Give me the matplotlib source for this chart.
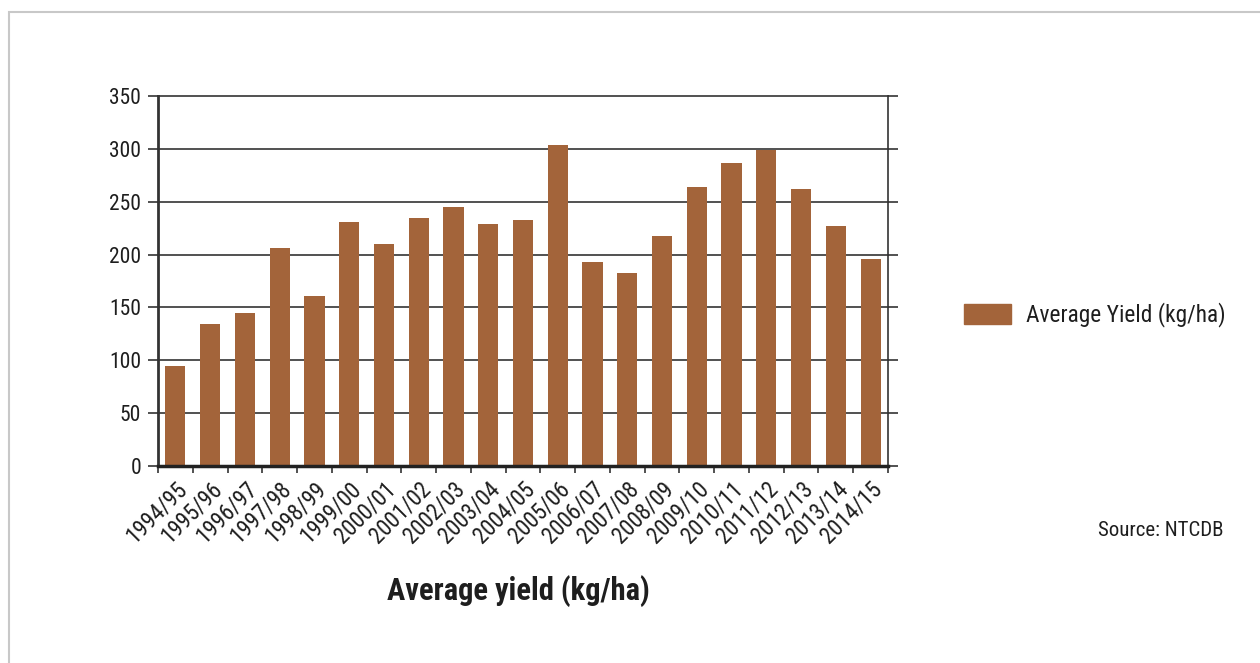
import numpy as np
import matplotlib.pyplot as plt
from matplotlib.patches import Rectangle, Patch

plt.rcParams['font.family'] = ['Roboto Condensed', 'DejaVu Sans']

# Season labels and average yield (kg/ha)
seasons = ["1994/95", "1995/96", "1996/97", "1997/98", "1998/99", "1999/00", "2000/01",
           "2001/02", "2002/03", "2003/04", "2004/05", "2005/06", "2006/07", "2007/08",
           "2008/09", "2009/10", "2010/11", "2011/12", "2012/13", "2013/14", "2014/15"]
yields = [95, 134, 145, 206, 161, 231, 210, 235, 245, 229, 233, 304, 193, 183,
          218, 264, 287, 299, 262, 227, 196]

bar_color = '#A3643A'
ink = '#1e1e1e'

fig = plt.figure(figsize=(12.6, 6.63), dpi=100)
W, H = 1260, 663
ax = fig.add_axes([158 / W, 1 - 466 / H, (888 - 158) / W, (466 - 96) / H])

x = np.arange(len(seasons))
ax.bar(x, yields, width=0.58, color=bar_color, zorder=3)

ax.set_xlim(-0.5, len(seasons) - 0.5)
ax.set_ylim(0, 350)
ax.set_yticks(np.arange(0, 351, 50))
ax.yaxis.grid(True, color='#333333', linewidth=1.2, zorder=0)
ax.tick_params(axis='y', which='both', left=True, right=True, direction='out',
               length=7, width=1.2, color='#333333', labelsize=15.5, pad=5,
               labelcolor=ink)

# x ticks sit on the category boundaries, labels under each bar
ax.set_xticks(np.arange(-0.5, len(seasons), 1.0))
ax.set_xticklabels([])
ax.set_xticks(x, minor=True)
ax.set_xticklabels(seasons, minor=True, rotation=45, ha='right', rotation_mode='anchor',
                   fontsize=16.5, color=ink)
ax.tick_params(axis='x', which='major', direction='out', length=5, width=1.2, color='#333333')
ax.tick_params(axis='x', which='minor', length=0, pad=8)

ax.spines['left'].set_color('#333333')
ax.spines['left'].set_linewidth(2)
ax.spines['right'].set_color('#333333')
ax.spines['right'].set_linewidth(1.2)
ax.spines['top'].set_visible(False)
ax.spines['bottom'].set_color('#222222')
ax.spines['bottom'].set_linewidth(2.5)
ax.spines['bottom'].set_zorder(4)

# clip_on off so the grid lines reach out with the ticks
for line in ax.get_ygridlines():
    line.set_clip_on(False)

fig.text(518 / W, 1 - 591 / H, "Average yield (kg/ha)", ha='center', va='center',
         fontsize=22, fontweight='bold', color=ink)

fig.legend(handles=[Patch(color=bar_color, label="Average Yield (kg/ha)")],
           loc='center left', bbox_to_anchor=(943 / W, 1 - 315 / H), frameon=False,
           fontsize=16.8, handlelength=2.0, handleheight=0.95, handletextpad=0.65,
           labelcolor=ink)

fig.text(1223 / W, 1 - 530 / H, "Source: NTCDB", ha='right', va='center', fontsize=15,
         color=ink)

# thin gray frame around the panel
fig.patches.append(Rectangle((9 / W, -0.01), 1.1, 1 - 12 / H + 0.01, transform=fig.transFigure,
                             fill=False, edgecolor='#c8c8c8', linewidth=1.5))

fig.savefig('out.png', dpi=100)
